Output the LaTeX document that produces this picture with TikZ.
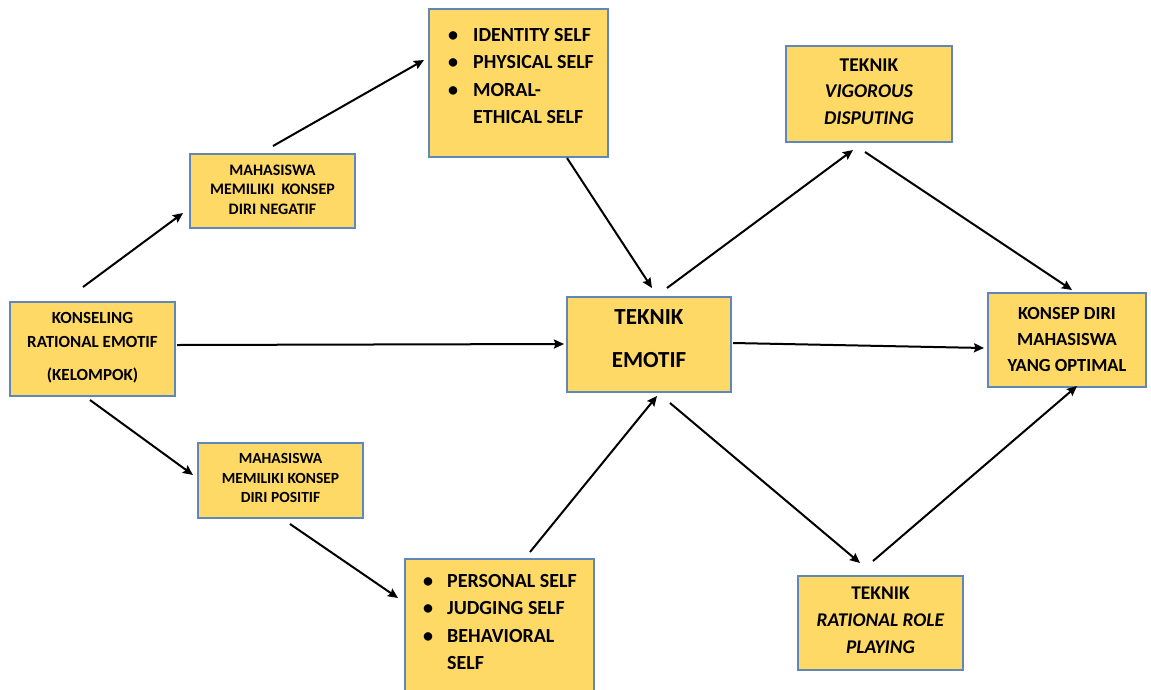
\documentclass[tikz,border=0pt]{standalone}
\usepackage{fontspec}
\setmainfont{Carlito}
\usetikzlibrary{arrows.meta}
\definecolor{boxfill}{RGB}{255,217,102}
\definecolor{boxline}{RGB}{95,135,185}
\tikzset{
  box/.style={draw=boxline, line width=1.3pt, fill=boxfill, inner sep=0pt, font=\bfseries},
  txt/.style={inner sep=0pt, font=\bfseries},
  arr/.style={line width=2pt, -{Stealth[length=10pt,width=9pt,inset=1.5pt]}}
}
\newcommand{\lines}[3]{\raisebox{#1}[\height][\depth]{\begin{tabular}{@{}c@{}}#3\end{tabular}}}
\begin{document}
\begin{tikzpicture}[x=1pt,y=-1pt]
\useasboundingbox (0,0) rectangle (1151,689);
\fill[white] (0,0) rectangle (1151,689);

% boxes
\node[box, minimum width=165pt, minimum height=94pt] (kon) at (92.5,349)
  {\fontsize{17}{24}\selectfont\lines{2pt}{}{KONSELING\\RATIONAL EMOTIF\\[9pt](KELOMPOK)}};
\node[box, minimum width=165pt, minimum height=74pt] (neg) at (272.5,191)
  {\fontsize{16}{19.5}\selectfont\lines{0pt}{}{MAHASISWA\\MEMILIKI\ \ KONSEP\\DIRI NEGATIF}};
\node[box, minimum width=165pt, minimum height=75pt] (pos) at (280.5,480.5)
  {\fontsize{15.5}{19.5}\selectfont\lines{1pt}{}{MAHASISWA\\MEMILIKI KONSEP\\DIRI POSITIF}};
\node[box, minimum width=164pt, minimum height=95pt] (emo) at (649,344.5)
  {\fontsize{23}{43}\selectfont\lines{7pt}{}{TEKNIK\\EMOTIF}};
\node[box, minimum width=166pt, minimum height=96pt] (vig) at (869,94)
  {\fontsize{19.5}{26.5}\selectfont\lines{1.7pt}{}{TEKNIK\\\textit{VIGOROUS}\\\textit{DISPUTING}}};
\node[box, minimum width=158pt, minimum height=94pt] (opt) at (1067,340)
  {\fontsize{18.5}{26}\selectfont\lines{0pt}{}{KONSEP DIRI\\MAHASISWA\\YANG OPTIMAL}};
\node[box, minimum width=165pt, minimum height=94pt] (rol) at (880.5,623)
  {\fontsize{19.4}{27}\selectfont\lines{2pt}{}{TEKNIK\\\textit{RATIONAL ROLE}\\\textit{PLAYING}}};

% bullet boxes
\node[box, minimum width=179pt, minimum height=148pt] (ide) at (518.5,83) {};
\node[txt, anchor=base west] (idetxt) at (448,41)
  {\fontsize{20}{27.6}\selectfont\begin{tabular}[t]{@{}p{25pt}@{}l@{}}
  \textbullet & IDENTITY SELF\\
  \textbullet & PHYSICAL SELF\\
  \textbullet & MORAL-\\
  & ETHICAL SELF
  \end{tabular}};
\node[box, minimum width=189pt, minimum height=133pt] (per) at (499.5,625.5) {};
\node[txt, anchor=base west] (pertxt) at (423,587)
  {\fontsize{20}{27.5}\selectfont\begin{tabular}[t]{@{}p{24pt}@{}l@{}}
  \textbullet & PERSONAL SELF\\
  \textbullet & JUDGING SELF\\
  \textbullet & BEHAVIORAL\\
  & SELF
  \end{tabular}};

% arrow end points
\coordinate (a1s) at (83,287);   \coordinate (a1e) at (183,213);
\coordinate (a2s) at (273,146);  \coordinate (a2e) at (424,60);
\coordinate (a3s) at (567,158);  \coordinate (a3e) at (652,288);
\coordinate (a4s) at (177,345);  \coordinate (a4e) at (564,344);
\coordinate (a5s) at (90,400);   \coordinate (a5e) at (193,475);
\coordinate (a6s) at (290,524);  \coordinate (a6e) at (398,598);
\coordinate (a7s) at (530,552);  \coordinate (a7e) at (657,396);
\coordinate (a8s) at (667,288);  \coordinate (a8e) at (853,150);
\coordinate (a9s) at (865,152);  \coordinate (a9e) at (1072,290);
\coordinate (a10s) at (733,343); \coordinate (a10e) at (984,348);
\coordinate (a11s) at (670,403); \coordinate (a11e) at (860,563);
\coordinate (a12s) at (873,561); \coordinate (a12e) at (1077,386);

\foreach \i in {1,...,12} { \draw[arr] (a\i s) -- (a\i e); }
\end{tikzpicture}
\end{document}
